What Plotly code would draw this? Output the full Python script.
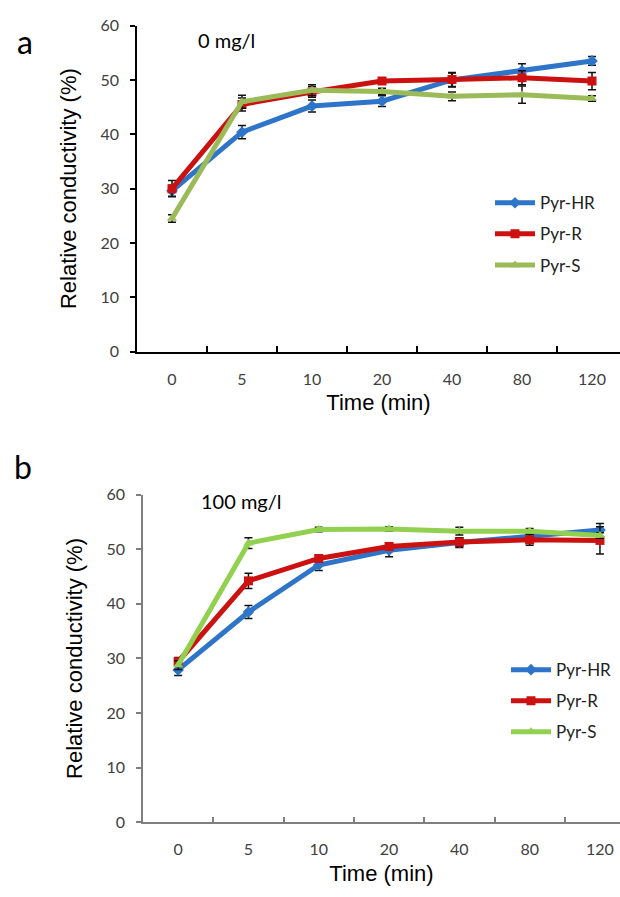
import plotly.graph_objects as go

times = ["0", "5", "10", "20", "40", "80", "120"]
series_names = ["Pyr-HR", "Pyr-R", "Pyr-S"]

# Panel a: 0 mg/l
a_hr = [29.6, 40.4, 45.2, 46.1, 50.0, 51.7, 53.5]
a_hr_err = [1.0, 1.2, 1.1, 1.0, 1.3, 1.3, 0.8]
a_r = [30.0, 45.5, 47.8, 49.8, 50.1, 50.4, 49.8]
a_r_err = [1.5, 1.2, 1.0, 0.5, 1.3, 1.3, 1.6]
a_s = [24.5, 46.0, 48.1, 47.9, 47.0, 47.3, 46.6]
a_s_err = [0.7, 1.2, 1.0, 0.6, 0.8, 1.6, 0.5]

# Panel b: 100 mg/l
b_hr = [27.9, 38.5, 47.1, 49.8, 51.2, 52.3, 53.5]
b_hr_err = [1.0, 1.2, 1.0, 1.2, 0.9, 0.9, 1.2]
b_r = [29.4, 44.2, 48.3, 50.5, 51.3, 51.7, 51.6]
b_r_err = [0.8, 1.4, 0.6, 0.6, 0.8, 1.0, 2.5]
b_s = [28.8, 51.1, 53.6, 53.7, 53.3, 53.3, 52.5]
b_s_err = [0.8, 1.0, 0.4, 0.4, 0.7, 0.5, 0.5]

TICK_FONT = dict(family="Lato", size=16, color="#404040")
TITLE_FONT = dict(family="Liberation Sans, Arial", size=22, color="#000000")

fig = go.Figure()

def add(xax, yax, y, err, name, color, symbol, legend):
    fig.add_trace(go.Scatter(
        x=times, y=y, name=name, mode="lines+markers",
        xaxis=xax, yaxis=yax, legend=legend, legendgroup=legend + name,
        line=dict(color=color, width=5),
        marker=dict(color=color, symbol=symbol, size=9),
        error_y=dict(type="data", array=err, visible=True, color="#111111",
                     thickness=1.5, width=4),
    ))

blue, red = "#2E74C9", "#CC1111"
add("x", "y", a_hr, a_hr_err, series_names[0], blue, "diamond", "legend")
add("x", "y", a_r, a_r_err, series_names[1], red, "square", "legend")
add("x", "y", a_s, a_s_err, series_names[2], "#9BBB59", "triangle-up", "legend")
add("x2", "y2", b_hr, b_hr_err, series_names[0], blue, "diamond", "legend2")
add("x2", "y2", b_r, b_r_err, series_names[1], red, "square", "legend2")
add("x2", "y2", b_s, b_s_err, series_names[2], "#92D050", "triangle-up", "legend2")

W, H = 620, 897

def xaxis(left_px, rng, anchor, color):
    return dict(
        domain=[left_px / W, 1.0], anchor=anchor, type="category",
        range=rng, tickson="boundaries", ticks="inside", ticklen=6,
        tickcolor=color, tickwidth=1.5, showline=True, linecolor=color,
        linewidth=1.5, showgrid=False, zeroline=False, tickfont=TICK_FONT,
        ticklabelstandoff=12,
        title=dict(text="Time (min)", font=TITLE_FONT, standoff=8),
    )

def yaxis(top_px, bottom_px, anchor, color):
    return dict(
        domain=[1 - bottom_px / H, 1 - top_px / H], anchor=anchor,
        range=[0, 60], dtick=10, ticks="outside", ticklen=5,
        tickcolor=color, tickwidth=1.5, showline=True, linecolor=color,
        linewidth=1.5, showgrid=False, zeroline=False, tickfont=TICK_FONT,
        ticklabelstandoff=8,
        title=dict(text="Relative conductivity (%)", font=TITLE_FONT, standoff=18),
    )

legend_common = dict(
    font=dict(family="Lato", size=17, color="#222222"),
    bgcolor="rgba(0,0,0,0)", xanchor="left", yanchor="top",
    tracegroupgap=6, itemwidth=40,
)

fig.update_layout(
    width=W, height=H,
    margin=dict(l=0, r=0, t=0, b=0),
    paper_bgcolor="white", plot_bgcolor="white",
    xaxis=xaxis(137, [-0.5, 6.4], "y", "#000000"),
    yaxis=yaxis(16, 349, "x", "#000000"),
    xaxis2=xaxis(143, [-0.5, 6.285], "y2", "#7F7F7F"),
    yaxis2=yaxis(495, 830, "x2", "#7F7F7F"),
    legend=dict(x=490 / W, y=1 - 179 / H, **legend_common),
    legend2=dict(x=506 / W, y=1 - 656 / H, **legend_common),
    showlegend=True,
    annotations=[
        dict(text="a", x=15 / W, y=1 - 32 / H, xref="paper", yref="paper",
             xanchor="left", yanchor="middle", showarrow=False,
             font=dict(family="Lato", size=32, color="#000")),
        dict(text="0 mg/l", x=196 / W, y=1 - 31 / H, xref="paper", yref="paper",
             xanchor="left", yanchor="middle", showarrow=False,
             font=dict(family="Lato", size=20, color="#000")),
        dict(text="b", x=12 / W, y=1 - 466 / H, xref="paper", yref="paper",
             xanchor="left", yanchor="middle", showarrow=False,
             font=dict(family="Lato", size=32, color="#000")),
        dict(text="100 mg/l", x=199 / W, y=1 - 502 / H, xref="paper", yref="paper",
             xanchor="left", yanchor="middle", showarrow=False,
             font=dict(family="Lato", size=20, color="#000")),
    ],
)

fig.write_html(
    "out.html",
    config={"displayModeBar": False},
    post_script="document.body.style.margin='0';document.body.style.overflow='hidden';",
)
